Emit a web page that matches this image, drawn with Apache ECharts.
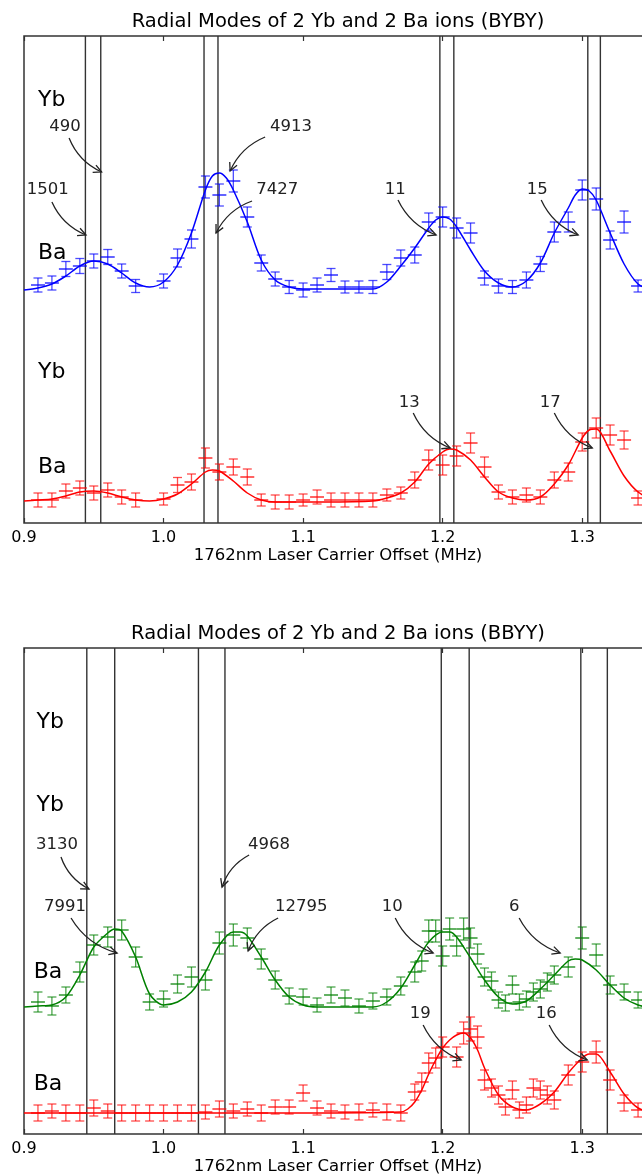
<!DOCTYPE html>
<html>
<head>
<meta charset="utf-8">
<script src="https://cdn.jsdelivr.net/npm/echarts@6/dist/echarts.min.js"></script>
<style>
  html, body { margin: 0; padding: 0; background: #fff; }
  #chart { width: 642px; height: 1175px; }
</style>
</head>
<body>
<div id="chart"></div>
<script>
// signal is in arbitrary units, each trace offset upward in its panel
// points: [freq MHz, signal, y error]

// ---- top panel (BYBY) ----
const bybyBluePts = [
  [0.91, 2.38, 0.07], [0.92, 2.40, 0.07], [0.93, 2.54, 0.075], [0.94, 2.57, 0.075],
  [0.95, 2.62, 0.07], [0.96, 2.66, 0.075], [0.97, 2.52, 0.07], [0.98, 2.37, 0.065],
  [1.00, 2.42, 0.07], [1.01, 2.65, 0.09], [1.02, 2.84, 0.09], [1.03, 3.36, 0.11],
  [1.04, 3.28, 0.11], [1.05, 3.42, 0.11], [1.06, 3.06, 0.10], [1.07, 2.60, 0.08],
  [1.08, 2.44, 0.07], [1.09, 2.36, 0.065], [1.10, 2.33, 0.07], [1.11, 2.38, 0.07],
  [1.12, 2.48, 0.065], [1.13, 2.36, 0.06], [1.14, 2.36, 0.06], [1.15, 2.36, 0.065],
  [1.16, 2.51, 0.075], [1.17, 2.65, 0.08], [1.18, 2.68, 0.08], [1.19, 3.01, 0.09],
  [1.20, 3.06, 0.10], [1.21, 2.95, 0.10], [1.22, 2.90, 0.10], [1.23, 2.45, 0.07],
  [1.24, 2.37, 0.07], [1.25, 2.36, 0.065], [1.26, 2.43, 0.08], [1.27, 2.59, 0.075],
  [1.28, 2.91, 0.10], [1.29, 3.01, 0.10], [1.30, 3.33, 0.10], [1.31, 3.24, 0.11],
  [1.32, 2.83, 0.09], [1.33, 3.01, 0.11], [1.34, 2.37, 0.06]
];
const bybyBlueFit = [
  [0.90, 2.33], [0.91, 2.35], [0.92, 2.39], [0.93, 2.47], [0.94, 2.57], [0.95, 2.62],
  [0.96, 2.59], [0.97, 2.50], [0.98, 2.40], [0.99, 2.36], [1.00, 2.41], [1.01, 2.58],
  [1.02, 2.90], [1.03, 3.33], [1.035, 3.47], [1.04, 3.50], [1.045, 3.45], [1.05, 3.33],
  [1.06, 3.01], [1.07, 2.63], [1.08, 2.43], [1.09, 2.36], [1.10, 2.34], [1.125, 2.34],
  [1.15, 2.34], [1.16, 2.41], [1.17, 2.57], [1.18, 2.75], [1.19, 2.95], [1.195, 3.03],
  [1.20, 3.06], [1.205, 3.04], [1.21, 2.96], [1.22, 2.73], [1.23, 2.52], [1.24, 2.40],
  [1.25, 2.36], [1.26, 2.42], [1.27, 2.60], [1.28, 2.90], [1.29, 3.15], [1.295, 3.28],
  [1.30, 3.34], [1.305, 3.32], [1.31, 3.23], [1.32, 2.90], [1.33, 2.59], [1.34, 2.39],
  [1.35, 2.33]
];
const bybyRedPts = [
  [0.91, 0.23, 0.07], [0.92, 0.23, 0.07], [0.93, 0.32, 0.07], [0.94, 0.35, 0.07],
  [0.95, 0.30, 0.07], [0.96, 0.33, 0.07], [0.97, 0.26, 0.07], [0.98, 0.23, 0.07],
  [1.00, 0.24, 0.06], [1.01, 0.38, 0.075], [1.02, 0.41, 0.08], [1.03, 0.65, 0.10],
  [1.04, 0.51, 0.08], [1.05, 0.56, 0.08], [1.06, 0.46, 0.08], [1.07, 0.23, 0.06],
  [1.08, 0.21, 0.07], [1.09, 0.21, 0.07], [1.10, 0.23, 0.06], [1.11, 0.26, 0.07],
  [1.12, 0.23, 0.07], [1.13, 0.23, 0.07], [1.14, 0.23, 0.07], [1.15, 0.23, 0.07],
  [1.16, 0.28, 0.06], [1.17, 0.30, 0.06], [1.18, 0.43, 0.08], [1.19, 0.63, 0.10],
  [1.20, 0.58, 0.10], [1.21, 0.67, 0.10], [1.22, 0.80, 0.10], [1.23, 0.56, 0.10],
  [1.24, 0.31, 0.07], [1.25, 0.26, 0.07], [1.26, 0.28, 0.07], [1.27, 0.26, 0.07],
  [1.28, 0.43, 0.08], [1.29, 0.51, 0.09], [1.30, 0.81, 0.09], [1.31, 0.95, 0.10],
  [1.32, 0.88, 0.10], [1.33, 0.83, 0.09], [1.34, 0.25, 0.07]
];
const bybyRedFit = [
  [0.90, 0.22], [0.91, 0.23], [0.92, 0.24], [0.93, 0.27], [0.94, 0.31], [0.95, 0.32],
  [0.96, 0.30], [0.97, 0.26], [0.98, 0.23], [0.99, 0.22], [1.00, 0.24], [1.01, 0.29],
  [1.02, 0.39], [1.03, 0.51], [1.035, 0.53], [1.04, 0.52], [1.05, 0.42], [1.06, 0.30],
  [1.07, 0.23], [1.08, 0.21], [1.115, 0.21], [1.15, 0.22], [1.16, 0.25], [1.17, 0.30],
  [1.18, 0.41], [1.19, 0.59], [1.20, 0.71], [1.205, 0.74], [1.21, 0.73], [1.22, 0.63],
  [1.23, 0.46], [1.24, 0.31], [1.25, 0.25], [1.26, 0.23], [1.27, 0.26], [1.28, 0.39],
  [1.29, 0.58], [1.30, 0.85], [1.305, 0.93], [1.31, 0.94], [1.32, 0.72], [1.33, 0.47],
  [1.34, 0.31], [1.35, 0.24]
];
const bybyModeLines = [0.944, 0.955, 1.029, 1.039, 1.198, 1.208, 1.304, 1.313];
// [text x, text y, arrow start x, y, arrow tip x, y]
const bybyNotePos = [
  [0.917, 3.33, 0.920, 3.21, 0.9444, 2.88],
  [0.9294, 3.96, 0.9323, 3.85, 0.9556, 3.51],
  [1.0914, 3.96, 1.0728, 3.86, 1.0477, 3.52],
  [1.0814, 3.33, 1.0634, 3.22, 1.0376, 2.90],
  [1.166, 3.33, 1.168, 3.23, 1.1953, 2.88],
  [1.2677, 3.33, 1.2706, 3.23, 1.2971, 2.88],
  [1.176, 1.20, 1.1789, 1.10, 1.2054, 0.75],
  [1.2771, 1.20, 1.280, 1.10, 1.3072, 0.75]
];
const bybyNoteText = ['1501', '490', '4913', '7427', '11', '15', '13', '17'];
const bybyIonPos = [[0.910, 4.23], [0.910, 2.70], [0.910, 1.51], [0.910, 0.56]];
const bybyIonText = ['Yb', 'Ba', 'Yb', 'Ba'];

// ---- bottom panel (BBYY) ----
const bbyyGreenPts = [
  [0.91, 1.32, 0.10], [0.92, 1.28, 0.09], [0.93, 1.39, 0.08], [0.94, 1.62, 0.10],
  [0.95, 1.89, 0.10], [0.96, 1.97, 0.10], [0.97, 2.04, 0.10], [0.98, 1.77, 0.10],
  [0.99, 1.32, 0.08], [1.00, 1.35, 0.08], [1.01, 1.50, 0.09], [1.02, 1.57, 0.10],
  [1.03, 1.54, 0.10], [1.04, 1.91, 0.11], [1.05, 1.99, 0.11], [1.06, 1.96, 0.10],
  [1.07, 1.75, 0.10], [1.08, 1.54, 0.09], [1.09, 1.38, 0.08], [1.10, 1.37, 0.08],
  [1.11, 1.29, 0.07], [1.12, 1.39, 0.08], [1.13, 1.36, 0.08], [1.14, 1.28, 0.07],
  [1.15, 1.33, 0.08], [1.16, 1.37, 0.08], [1.17, 1.48, 0.09], [1.18, 1.62, 0.10],
  [1.185, 1.73, 0.10], [1.19, 2.03, 0.11], [1.195, 2.03, 0.11], [1.20, 1.78, 0.10],
  [1.205, 2.05, 0.11], [1.21, 1.88, 0.10], [1.215, 2.05, 0.11], [1.22, 1.96, 0.10],
  [1.225, 1.80, 0.10], [1.23, 1.57, 0.09], [1.235, 1.53, 0.09], [1.24, 1.34, 0.08],
  [1.245, 1.31, 0.08], [1.25, 1.49, 0.09], [1.255, 1.32, 0.08], [1.26, 1.35, 0.08],
  [1.265, 1.42, 0.09], [1.27, 1.45, 0.09], [1.275, 1.52, 0.09], [1.28, 1.59, 0.09],
  [1.29, 1.67, 0.10], [1.30, 1.96, 0.11], [1.31, 1.79, 0.11], [1.32, 1.49, 0.09],
  [1.33, 1.42, 0.08], [1.34, 1.34, 0.08]
];
const bbyyGreenFit = [
  [0.90, 1.27], [0.91, 1.28], [0.92, 1.29], [0.93, 1.37], [0.94, 1.59], [0.95, 1.87],
  [0.96, 2.01], [0.965, 2.05], [0.97, 2.03], [0.98, 1.77], [0.99, 1.40], [1.00, 1.29],
  [1.01, 1.32], [1.02, 1.42], [1.03, 1.62], [1.04, 1.89], [1.05, 2.02], [1.055, 2.02],
  [1.06, 1.98], [1.07, 1.77], [1.08, 1.54], [1.09, 1.37], [1.10, 1.29], [1.11, 1.27],
  [1.13, 1.27], [1.15, 1.27], [1.16, 1.32], [1.17, 1.46], [1.18, 1.69], [1.19, 1.92],
  [1.20, 2.02], [1.205, 2.02], [1.21, 1.97], [1.22, 1.76], [1.23, 1.54], [1.24, 1.37],
  [1.25, 1.30], [1.26, 1.33], [1.27, 1.45], [1.28, 1.59], [1.29, 1.73], [1.295, 1.75],
  [1.30, 1.74], [1.31, 1.64], [1.32, 1.49], [1.33, 1.36], [1.34, 1.29], [1.35, 1.26]
];
const bbyyRedPts = [
  [0.91, 0.21, 0.08], [0.92, 0.23, 0.07], [0.93, 0.21, 0.08], [0.94, 0.21, 0.08],
  [0.95, 0.26, 0.08], [0.96, 0.23, 0.07], [0.97, 0.21, 0.08], [0.98, 0.21, 0.08],
  [0.99, 0.21, 0.08], [1.00, 0.21, 0.08], [1.01, 0.21, 0.08], [1.02, 0.21, 0.08],
  [1.03, 0.22, 0.07], [1.04, 0.25, 0.08], [1.05, 0.23, 0.07], [1.06, 0.25, 0.07],
  [1.07, 0.21, 0.08], [1.08, 0.27, 0.07], [1.09, 0.27, 0.07], [1.10, 0.41, 0.08],
  [1.11, 0.26, 0.07], [1.12, 0.23, 0.07], [1.13, 0.22, 0.07], [1.14, 0.22, 0.08],
  [1.15, 0.24, 0.07], [1.16, 0.22, 0.08], [1.17, 0.21, 0.08], [1.18, 0.42, 0.08],
  [1.185, 0.52, 0.09], [1.19, 0.71, 0.10], [1.195, 0.76, 0.10], [1.20, 0.87, 0.10],
  [1.21, 0.77, 0.10], [1.215, 1.01, 0.11], [1.22, 1.05, 0.12], [1.225, 0.97, 0.11],
  [1.23, 0.54, 0.10], [1.235, 0.46, 0.09], [1.24, 0.39, 0.09], [1.245, 0.27, 0.08],
  [1.25, 0.44, 0.09], [1.255, 0.24, 0.08], [1.26, 0.29, 0.08], [1.265, 0.46, 0.09],
  [1.27, 0.44, 0.09], [1.275, 0.39, 0.09], [1.28, 0.34, 0.09], [1.29, 0.59, 0.10],
  [1.30, 0.72, 0.10], [1.31, 0.82, 0.11], [1.32, 0.54, 0.10], [1.33, 0.31, 0.08],
  [1.34, 0.24, 0.07]
];
const bbyyRedFit = [
  [0.90, 0.21], [1.00, 0.21], [1.10, 0.21], [1.17, 0.22], [1.175, 0.25], [1.18, 0.32],
  [1.185, 0.44], [1.19, 0.60], [1.195, 0.74], [1.20, 0.86], [1.205, 0.94], [1.21, 0.99],
  [1.215, 1.01], [1.22, 0.96], [1.225, 0.84], [1.23, 0.66], [1.24, 0.39], [1.25, 0.27],
  [1.26, 0.24], [1.27, 0.30], [1.28, 0.42], [1.29, 0.61], [1.30, 0.76], [1.305, 0.80],
  [1.31, 0.80], [1.32, 0.62], [1.33, 0.40], [1.34, 0.26], [1.35, 0.22]
];
const bbyyModeLines = [0.945, 0.965, 1.025, 1.044, 1.199, 1.219, 1.299, 1.318];
const bbyyNotePos = [
  [0.9237, 2.89, 0.9265, 2.77, 0.9466, 2.45],
  [1.0756, 2.89, 1.0613, 2.79, 1.0419, 2.47],
  [0.9294, 2.27, 0.9337, 2.16, 0.9667, 1.81],
  [1.0986, 2.27, 1.0821, 2.16, 1.0606, 1.83],
  [1.1638, 2.27, 1.166, 2.16, 1.1932, 1.81],
  [1.2513, 2.27, 1.2548, 2.16, 1.2842, 1.81],
  [1.1839, 1.20, 1.186, 1.09, 1.2133, 0.74],
  [1.2742, 1.20, 1.2763, 1.09, 1.3036, 0.74]
];
const bbyyNoteText = ['3130', '4968', '7991', '12795', '10', '6', '19', '16'];
const bbyyIonPos = [[0.909, 4.12], [0.909, 3.29], [0.907, 1.62], [0.907, 0.50]];
const bbyyIonText = ['Yb', 'Yb', 'Ba', 'Ba'];

const titles = ['Radial Modes of 2 Yb and 2 Ba ions (BYBY)', 'Radial Modes of 2 Yb and 2 Ba ions (BBYY)'];
const xLabel = '1762nm Laser Carrier Offset (MHz)';
const yMax = [4.87, 4.86];
const X_ERR = 0.005;
const FONT = '"DejaVu Sans", sans-serif';

const chart = echarts.init(document.getElementById('chart'), null, { renderer: 'canvas' });

function errRender(params, api) {
  const x = api.value(0), y = api.value(1), e = api.value(2);
  const top = api.coord([x, y + e]);
  const bot = api.coord([x, y - e]);
  const l = api.coord([x - X_ERR, y]);
  const r = api.coord([x + X_ERR, y]);
  const color = api.visual('color');
  const cap = 4.5;
  const faint = { stroke: color, lineWidth: 1.3, opacity: 0.7 };
  return {
    type: 'group',
    children: [
      { type: 'line', shape: { x1: top[0], y1: top[1], x2: bot[0], y2: bot[1] }, style: faint },
      { type: 'line', shape: { x1: top[0] - cap, y1: top[1], x2: top[0] + cap, y2: top[1] }, style: faint },
      { type: 'line', shape: { x1: bot[0] - cap, y1: bot[1], x2: bot[0] + cap, y2: bot[1] }, style: faint },
      { type: 'line', shape: { x1: l[0], y1: l[1], x2: r[0], y2: r[1] }, style: { stroke: color, lineWidth: 1.3, opacity: 0.95 } }
    ]
  };
}

function vlineRender(panel) {
  return function (params, api) {
    const x = api.value(0);
    const a = api.coord([x, 0]);
    const b = api.coord([x, yMax[panel]]);
    return { type: 'line', shape: { x1: a[0], y1: a[1], x2: b[0], y2: b[1] }, style: { stroke: '#333', lineWidth: 1.4 } };
  };
}

// curved arrow like matplotlib arc3
function noteRender(texts) {
  return function (params, api) {
    const t = api.coord([api.value(0), api.value(1)]);
    const s = api.coord([api.value(2), api.value(3)]);
    const e = api.coord([api.value(4), api.value(5)]);
    const rad = 0.2;
    const dx = e[0] - s[0], dy = e[1] - s[1];
    const cx = (s[0] + e[0]) / 2 - rad * dy;
    const cy = (s[1] + e[1]) / 2 + rad * dx;
    let ux = e[0] - cx, uy = e[1] - cy;
    const len = Math.sqrt(ux * ux + uy * uy);
    ux /= len; uy /= len;
    const hl = 8, hw = 4;
    const p1 = [e[0] - hl * ux - hw * uy, e[1] - hl * uy + hw * ux];
    const p2 = [e[0] - hl * ux + hw * uy, e[1] - hl * uy - hw * ux];
    return {
      type: 'group',
      children: [
        { type: 'bezierCurve', shape: { x1: s[0], y1: s[1], x2: e[0], y2: e[1], cpx1: cx, cpy1: cy },
          style: { stroke: '#222', lineWidth: 1.3, fill: null } },
        { type: 'polyline', shape: { points: [p1, e, p2] }, style: { stroke: '#222', lineWidth: 1.3, fill: null } },
        { type: 'text', x: t[0], y: t[1],
          style: { text: texts[params.dataIndex], fill: '#222', fontSize: 16.5, fontFamily: FONT, align: 'center', verticalAlign: 'middle' } }
      ]
    };
  };
}

function ionRender(texts) {
  return function (params, api) {
    const p = api.coord([api.value(0), api.value(1)]);
    return { type: 'text', x: p[0], y: p[1],
      style: { text: texts[params.dataIndex], fill: '#000', fontSize: 22, fontFamily: FONT, align: 'left', verticalAlign: 'middle' } };
  };
}

function panelSeries(panel, traces, modeLines, notePos, noteText, ionPos, ionText) {
  const xi = panel * 2, yi = panel;
  const out = [];
  out.push({ type: 'custom', xAxisIndex: xi, yAxisIndex: yi, renderItem: vlineRender(panel),
    data: modeLines.map(v => [v, 0]), encode: { x: 0, y: 1 }, silent: true, z: 1 });
  traces.forEach(tr => {
    out.push({ type: 'line', xAxisIndex: xi, yAxisIndex: yi, data: tr.fit, showSymbol: false, smooth: 0.3,
      lineStyle: { color: tr.color, width: 1.5 }, itemStyle: { color: tr.color }, silent: true, z: 3 });
    out.push({ type: 'custom', xAxisIndex: xi, yAxisIndex: yi, renderItem: errRender, data: tr.pts,
      encode: { x: 0, y: 1 }, itemStyle: { color: tr.color }, silent: true, z: 2 });
  });
  out.push({ type: 'custom', xAxisIndex: xi, yAxisIndex: yi, renderItem: noteRender(noteText), data: notePos,
    encode: { x: 0, y: 1 }, silent: true, z: 5 });
  out.push({ type: 'custom', xAxisIndex: xi, yAxisIndex: yi, renderItem: ionRender(ionText), data: ionPos,
    encode: { x: 0, y: 1 }, silent: true, z: 5 });
  return out;
}

function bottomAxis(grid) {
  return {
    type: 'value', gridIndex: grid, position: 'bottom', min: 0.9, max: 1.35, interval: 0.1,
    name: xLabel, nameLocation: 'middle', nameGap: 24,
    nameTextStyle: { color: '#000', fontSize: 16.5, fontFamily: FONT },
    axisLine: { show: false },
    axisTick: { inside: true, length: 5, lineStyle: { color: '#333', width: 1.2 } },
    axisLabel: { color: '#000', fontSize: 16, fontFamily: FONT, margin: 7, showMaxLabel: false,
      formatter: v => v.toFixed(1) },
    splitLine: { show: false }
  };
}
function topAxis(grid) {
  return {
    type: 'value', gridIndex: grid, position: 'top', min: 0.9, max: 1.35, interval: 0.1,
    name: titles[grid], nameLocation: 'middle', nameGap: 4,
    nameTextStyle: { color: '#000', fontSize: 19.5, fontFamily: FONT, verticalAlign: 'bottom' },
    axisLine: { show: false },
    axisTick: { inside: true, length: 5, lineStyle: { color: '#333', width: 1.2 } },
    axisLabel: { show: false },
    splitLine: { show: false }
  };
}

chart.setOption({
  animation: false,
  textStyle: { fontFamily: FONT },
  grid: [
    { left: 24, top: 36, width: 628, height: 487, outerBoundsMode: 'none', containLabel: false,
      show: true, borderColor: '#333', borderWidth: 1.5 },
    { left: 24, top: 648, width: 628, height: 486, outerBoundsMode: 'none', containLabel: false,
      show: true, borderColor: '#333', borderWidth: 1.5 }
  ],
  xAxis: [bottomAxis(0), topAxis(0), bottomAxis(1), topAxis(1)],
  yAxis: [
    { type: 'value', gridIndex: 0, min: 0, max: yMax[0], show: false },
    { type: 'value', gridIndex: 1, min: 0, max: yMax[1], show: false }
  ],
  series: [
    ...panelSeries(0, [
      { pts: bybyBluePts, fit: bybyBlueFit, color: '#0000ff' },
      { pts: bybyRedPts, fit: bybyRedFit, color: '#ff0000' }
    ], bybyModeLines, bybyNotePos, bybyNoteText, bybyIonPos, bybyIonText),
    ...panelSeries(1, [
      { pts: bbyyGreenPts, fit: bbyyGreenFit, color: '#008000' },
      { pts: bbyyRedPts, fit: bbyyRedFit, color: '#ff0000' }
    ], bbyyModeLines, bbyyNotePos, bbyyNoteText, bbyyIonPos, bbyyIonText)
  ]
});
</script>
</body>
</html>
